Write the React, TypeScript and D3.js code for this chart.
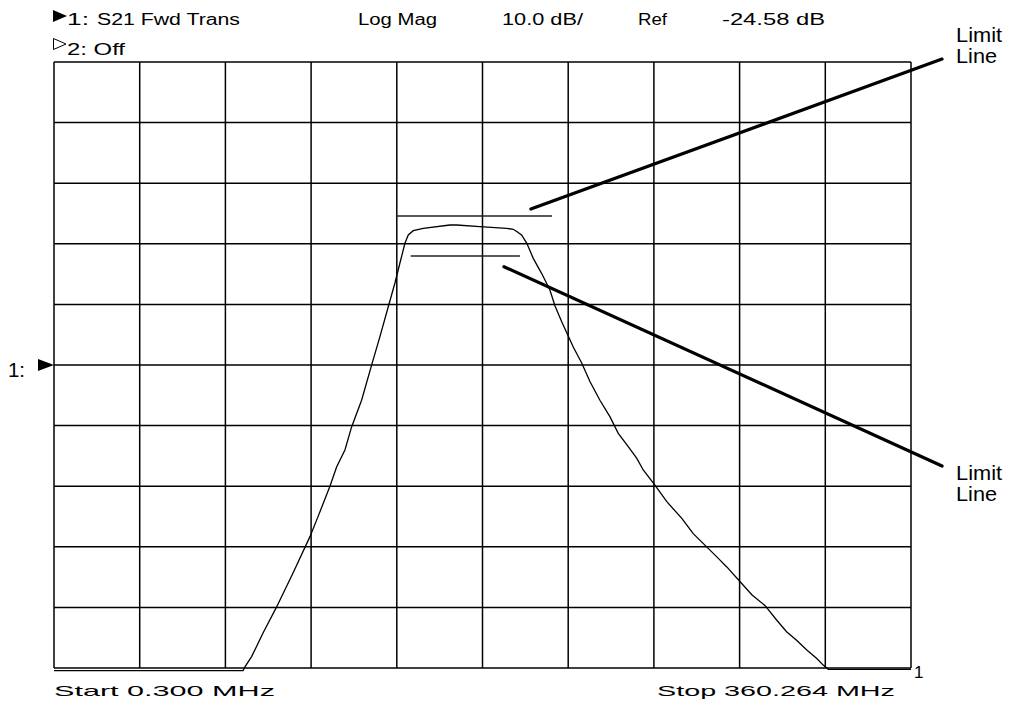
import React from "react";
import * as d3 from "d3";

// Frequency (MHz) and S21 magnitude (dB)
const freqMHz = [
  0.3, 79.7, 80.5, 83.3, 88.1, 93.8, 100.7, 107.8, 111.2, 116.2, 119.0, 122.5,
  125.3, 129.5, 133.7, 137.2, 140.7, 143.5, 145.6, 147.7, 149.1, 151.2, 155.4,
  166.6, 169.4, 179.2, 190.4, 193.2, 194.8, 196.7, 198.9, 201.6, 205.1, 208.6,
  210.7, 213.6, 216.3, 218.4, 222.0, 225.4, 229.6, 233.8, 237.3, 241.5, 245.1,
  247.8, 252.7, 257.7, 264.0, 268.8, 273.7, 278.6, 282.9, 288.4, 293.4, 299.0,
  303.9, 308.0, 312.2, 316.5, 320.7, 323.4, 325.5, 360.264,
];
const magDb = [
  -75.0, -75.0, -74.4, -72.7, -68.8, -64.5, -58.9, -52.9, -49.6, -44.6, -41.4,
  -38.6, -34.8, -30.4, -24.6, -19.9, -14.96, -11.05, -7.75, -4.5, -3.13, -2.42,
  -2.02, -1.48, -1.48, -1.76, -2.02, -2.19, -2.58, -3.13, -4.5, -6.98, -9.45,
  -12.2, -14.8, -17.5, -19.8, -21.6, -24.3, -27.3, -30.4, -33.1, -35.85, -38.06,
  -39.98, -41.9, -44.4, -47.14, -49.9, -52.4, -54.3, -56.2, -57.9, -60.3, -62.5,
  -64.3, -66.7, -68.6, -70.0, -71.6, -73.0, -74.1, -74.8, -74.8,
];

// Limit lines: [startMHz, stopMHz, dB]
const upperLimit = [143.9, 209.5, 0.0];
const lowerLimit = [150.1, 196.0, -6.6];

// Annotation pointers (MHz, dB): from point near limit to label
const annotUpper = [[200.6, 1.16], [373.3, 25.9]];
const annotLower = [[189.3, -8.36], [373.3, -41.25]];

const startMHz = 0.3;
const stopMHz = 360.264;
const refDb = -24.58;
const dbPerDiv = 10;
const divisions = 10;

const header1 = "S21 Fwd Trans";
const headerFormat = "Log Mag";
const headerScale = "10.0 dB/";
const headerRef = "Ref";
const headerRefVal = "-24.58 dB";

export default function App() {
  const left = 54, right = 911, top = 62, bottom = 668;
  const x = d3.scaleLinear().domain([startMHz, stopMHz]).range([left, right]);
  const yTop = refDb + dbPerDiv * 5;
  const yBot = refDb - dbPerDiv * 5;
  const y = d3.scaleLinear().domain([yBot, yTop]).range([bottom, top]);

  const xTicks = d3.range(divisions + 1).map((i) => startMHz + (i * (stopMHz - startMHz)) / divisions);
  const yTicks = d3.range(divisions + 1).map((i) => yBot + i * dbPerDiv);

  const pts: [number, number][] = freqMHz.map((f, i) => [f, magDb[i]]);
  const line = d3.line<[number, number]>().x((d) => x(d[0])).y((d) => y(d[1])).curve(d3.curveLinear);

  const font = "'Liberation Sans', Arial, sans-serif";

  return (
    <svg width={1014} height={702} style={{ position: "absolute", left: 0, top: 0, background: "#fff" }}>
      <rect width={1014} height={702} fill="#fff" />
      {/* grid */}
      <g stroke="#000" strokeWidth={1.5}>
        {xTicks.map((t, i) => (
          <line key={"x" + i} x1={x(t)} x2={x(t)} y1={top} y2={bottom} />
        ))}
        {yTicks.map((t, i) => (
          <line key={"y" + i} x1={left} x2={right} y1={y(t)} y2={y(t)} />
        ))}
      </g>
      {/* trace */}
      <path d={line(pts) || ""} fill="none" stroke="#000" strokeWidth={1.3} />
      {/* limit lines */}
      <g stroke="#222" strokeWidth={1.6}>
        <line x1={x(upperLimit[0])} x2={x(upperLimit[1])} y1={y(upperLimit[2])} y2={y(upperLimit[2])} />
        <line x1={x(lowerLimit[0])} x2={x(lowerLimit[1])} y1={y(lowerLimit[2])} y2={y(lowerLimit[2])} />
      </g>
      {/* annotation pointers */}
      <g stroke="#000" strokeWidth={3.2} strokeLinecap="round">
        <line x1={x(annotUpper[0][0])} y1={y(annotUpper[0][1])} x2={x(annotUpper[1][0])} y2={y(annotUpper[1][1])} />
        <line x1={x(annotLower[0][0])} y1={y(annotLower[0][1])} x2={x(annotLower[1][0])} y2={y(annotLower[1][1])} />
      </g>
      <g fontFamily={font} fontSize={20} fill="#000">
        <text x={x(annotUpper[1][0]) + 14} y={y(annotUpper[1][1]) - 17} textLength={46} lengthAdjust="spacingAndGlyphs">Limit</text>
        <text x={x(annotUpper[1][0]) + 14} y={y(annotUpper[1][1]) + 4} textLength={41} lengthAdjust="spacingAndGlyphs">Line</text>
        <text x={x(annotLower[1][0]) + 14} y={y(annotLower[1][1]) + 14} textLength={46} lengthAdjust="spacingAndGlyphs">Limit</text>
        <text x={x(annotLower[1][0]) + 14} y={y(annotLower[1][1]) + 35} textLength={41} lengthAdjust="spacingAndGlyphs">Line</text>
      </g>
      {/* header */}
      <g fontFamily={font} fontSize={16} fill="#000">
        <path d="M53,10 L67,16 L53,22 Z" fill="#000" />
        <text x={67} y={25} textLength={22} lengthAdjust="spacingAndGlyphs">1:</text>
        <text x={97} y={25} textLength={143} lengthAdjust="spacingAndGlyphs">{header1}</text>
        <text x={358} y={25} textLength={79} lengthAdjust="spacingAndGlyphs">{headerFormat}</text>
        <text x={502} y={25} textLength={81} lengthAdjust="spacingAndGlyphs">{headerScale}</text>
        <text x={638} y={25} textLength={29} lengthAdjust="spacingAndGlyphs">{headerRef}</text>
        <text x={722} y={25} textLength={103} lengthAdjust="spacingAndGlyphs">{headerRefVal}</text>
        <path d="M53.5,38.5 L66,44 L53.5,49.5 Z" fill="none" stroke="#000" strokeWidth={1} />
        <text x={67} y={55} textLength={58} lengthAdjust="spacingAndGlyphs">2: Off</text>
      </g>
      {/* reference marker */}
      <g fontFamily={font} fill="#000">
        <text x={8} y={377} fontSize={20} textLength={17} lengthAdjust="spacingAndGlyphs">1:</text>
        <path d={`M38,${y(refDb) - 6} L${left},${y(refDb)} L38,${y(refDb) + 6} Z`} />
      </g>
      {/* footer */}
      <g fontFamily={font} fontSize={15} fill="#000">
        <text x={54} y={696} textLength={221} lengthAdjust="spacingAndGlyphs">Start 0.300 MHz</text>
        <text x={657} y={696} textLength={238} lengthAdjust="spacingAndGlyphs">Stop 360.264 MHz</text>
        <text x={914} y={678} fontSize={17}>1</text>
      </g>
    </svg>
  );
}
